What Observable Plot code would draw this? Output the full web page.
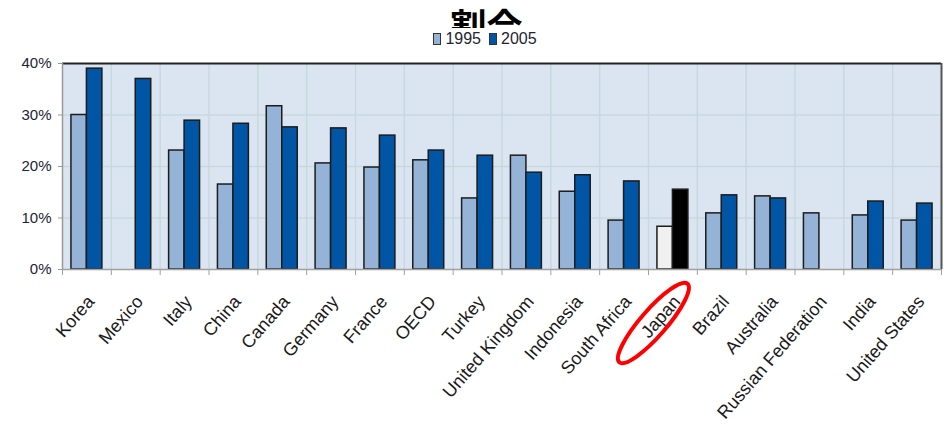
<!DOCTYPE html>
<html><head><meta charset="utf-8">
<script src="https://cdn.jsdelivr.net/npm/d3@7"></script>
<script src="https://cdn.jsdelivr.net/npm/@observablehq/plot@0.6"></script>
<style>
body{margin:0;background:#fff;font-family:"Liberation Sans",Arial,sans-serif;}
#wrap{width:944px;height:426px;position:relative;overflow:hidden;background:#fff}
#title{position:absolute;left:0;top:0;width:944px;height:28px;overflow:hidden;}
#title div{position:absolute;left:0;width:944px;padding-left:29px;box-sizing:border-box;text-align:center;
  font-family:"Noto Sans CJK JP";font-weight:bold;font-size:36px;line-height:12px;height:12px;top:18px;color:#000}
#legend{position:absolute;top:30px;left:0;width:944px;padding-left:26px;box-sizing:border-box;display:flex;justify-content:center;align-items:center;
  font-size:16px;color:#1e2433;height:18px}
#legend .sw{display:inline-block;width:6px;height:10px;border:1px solid #333;margin-right:4px}
#legend .it{display:flex;align-items:center;margin:0 4px}
#chart{position:absolute;left:0;top:48px}
</style></head>
<body><div id="wrap">
<div id="title"><div>割合</div></div>
<div id="legend"></div>
<div id="chart"></div>
</div>
<script>
const countries = ["Korea","Mexico","Italy","China","Canada","Germany","France","OECD","Turkey","United Kingdom","Indonesia","South Africa","Japan","Brazil","Australia","Russian Federation","India","United States"];
const years = ["1995","2005"];
const v1995 = [30.0,null,23.1,16.5,31.7,20.6,19.8,21.2,13.8,22.1,15.1,9.5,8.3,10.9,14.2,10.9,10.5,9.5];
const v2005 = [39.0,37.0,28.9,28.3,27.6,27.4,26.0,23.1,22.1,18.8,18.3,17.1,15.5,14.4,13.8,null,13.2,12.8];
const yTicks = [0,10,20,30,40];
const highlight = "Japan";
const colors = {"1995":"#95b3d7","2005":"#0055a5"};
const highlightColors = {"1995":"#f0f0f0","2005":"#000000"};

const rows = [];
countries.forEach((c,i)=>{
  if (v1995[i] != null) rows.push({i, country:c, year:"1995", value:v1995[i]});
  if (v2005[i] != null) rows.push({i, country:c, year:"2005", value:v2005[i]});
});

// legend
const lg = document.getElementById("legend");
years.forEach(y=>{
  const it = document.createElement("span"); it.className="it";
  const sw = document.createElement("span"); sw.className="sw"; sw.style.background=colors[y];
  it.appendChild(sw); it.appendChild(document.createTextNode(y)); lg.appendChild(it);
});

const W = 0.317;
const fillOf = d => (d.country===highlight ? highlightColors : colors)[d.year];
const grid = "#c6d9dd";

const plot = Plot.plot({
  width: 944, height: 378,
  marginLeft: 62, marginRight: 3, marginTop: 15, marginBottom: 157,
  style: {fontFamily: "Liberation Sans, Arial, sans-serif", background: "transparent", color:"#222"},
  x: {domain: [0, countries.length]},
  y: {domain: [0, 40], label: null},
  marks: [
    Plot.frame({fill: "#dbe5f1", stroke: null}),
    Plot.gridY(yTicks.slice(1, -1), {stroke: grid, strokeOpacity: 1, strokeWidth: 1.5}),
    Plot.gridX(d3.range(1, countries.length), {stroke: grid, strokeOpacity: 1, strokeWidth: 1.5}),
    Plot.rect(rows, {
      x1: d => d.i + 0.5 + (d.year === "1995" ? -W : 0),
      x2: d => d.i + 0.5 + (d.year === "1995" ? 0 : W),
      y1: 0, y2: "value",
      fill: fillOf, stroke: "#1c1c1c", strokeWidth: 1.5
    }),
    Plot.ruleY([40], {stroke: "#222", strokeWidth: 2}),
    Plot.ruleX([countries.length], {y1: 0, y2: 40, stroke: "#555", strokeWidth: 2}),
    Plot.ruleX([0], {y1: 0, y2: 40, stroke: "#999", strokeWidth: 1.5}),
    Plot.ruleY([0], {stroke: "#a0a0a0", strokeWidth: 1.5}),
    Plot.axisY(yTicks, {tickFormat: d => d + "%", tickSize: 4, tickPadding: 7, fontSize: 15, stroke: "#999", fill: "#1e2433", label: null}),
    Plot.axisX(d3.range(0, countries.length + 1), {tickFormat: () => "", tickSize: 6, stroke: "#a0a0a0", label: null}),
    Plot.text(countries, {x: (d, i) => i + 0.5, y: 0, text: d => d, rotate: -49, textAnchor: "end",
      dx: 4, dy: 29, fontSize: 18, fill: "#1a1a1a"})
  ]
});
document.getElementById("chart").appendChild(plot);

// red annotation ellipse around the highlighted category label
const xs = plot.scale("x"), ys = plot.scale("y");
const hx = xs.apply(countries.indexOf(highlight) + 0.5) - 19;
const hy = ys.apply(0) + 54;
d3.select(plot).append("ellipse")
  .attr("cx", hx).attr("cy", hy).attr("rx", 52).attr("ry", 13)
  .attr("transform", `rotate(-49,${hx},${hy})`)
  .attr("fill", "none").attr("stroke", "#ff0000").attr("stroke-width", 4);
</script>
</body></html>
